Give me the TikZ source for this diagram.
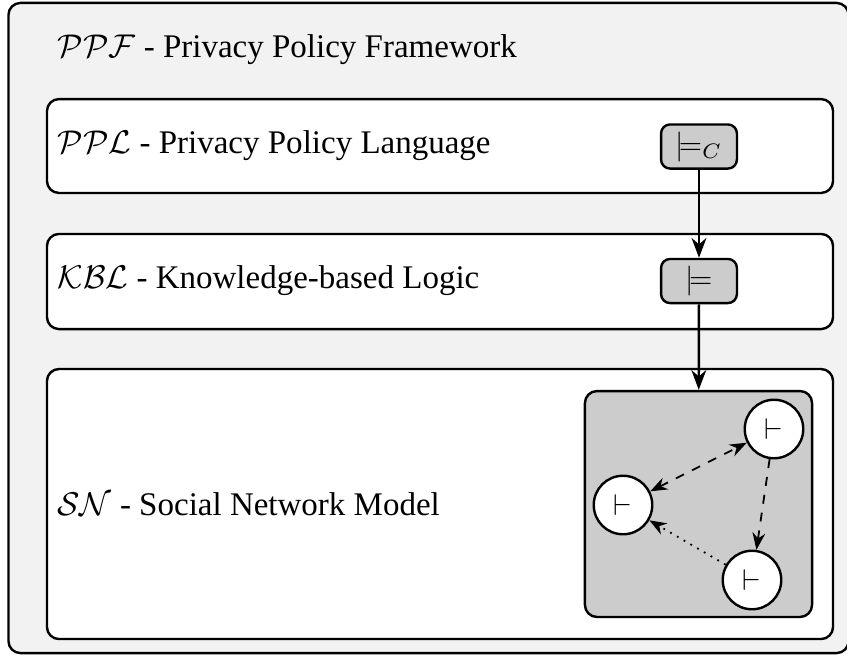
\documentclass[tikz,border=0pt]{standalone}
\usepackage{fontspec}
\setmainfont{Liberation Serif}
\usetikzlibrary{arrows.meta,positioning}
\definecolor{panel}{HTML}{F2F2F2}
\definecolor{shade}{HTML}{CCCCCC}

\begin{document}
\begin{tikzpicture}[x=0.3333pt,y=-0.3333pt,>=Stealth,
  layer/.style={draw,thick,rounded corners=4pt,fill=white,inner sep=0pt},
  op/.style={draw,thick,rounded corners=3pt,fill=shade,minimum width=25.3pt,minimum height=14.7pt,inner sep=0pt},
  agent/.style={draw,thick,circle,fill=white,minimum size=19.5pt,inner sep=0pt},
  lbl/.style={anchor=base west,inner sep=0pt,font=\fontsize{11}{13}\selectfont}]
\useasboundingbox (0,0) rectangle (847,656);
\node[draw,thick,rounded corners=4pt,fill=panel,minimum width=280pt,minimum height=216.7pt,inner sep=0pt] (framework) at(428.5,328) {};
\node[lbl] (ppf) at(57,57) {$\mathcal{PPF}$ - Privacy Policy Framework};
% layers
\node[layer,minimum width=262pt,minimum height=31.3pt] (ppl) at(440,146) {};
\node[layer,minimum width=262pt,minimum height=31.7pt] (kbl) at(440,281.5) {};
\node[layer,minimum width=262pt,minimum height=90pt] (sn) at(440,504) {};
\node[lbl] at(57,153) {$\mathcal{PPL}$ - Privacy Policy Language};
\node[lbl] at(57,288) {$\mathcal{KBL}$ - Knowledge-based Logic};
\node[lbl] at(57,515) {$\mathcal{SN}$ - Social Network Model};
% entailments
\node[op] (modelsC) at(699,146.5) {$\models_C$};
\node[op] (models) at(699,281) {$\models$};
\node[draw,thick,rounded corners=4pt,fill=shade,minimum width=75.7pt,minimum height=75.3pt,inner sep=0pt] (netbox) at(698.5,504) {};
\draw[->,thick] (modelsC)--(models);
\draw[->,thick] (models)--(netbox);
% agents
\node[agent] (agentA) at(774,429) {$\vdash$};
\node[agent] (agentB) at(623,505) {$\vdash$};
\node[agent] (agentC) at(752,580) {$\vdash$};
\draw[<->,semithick,dashed] (agentB)--(agentA);
\draw[->,semithick,dashed] (agentA)--(agentC);
\draw[->,semithick,dotted] (agentC)--(agentB);
\end{tikzpicture}
\end{document}
